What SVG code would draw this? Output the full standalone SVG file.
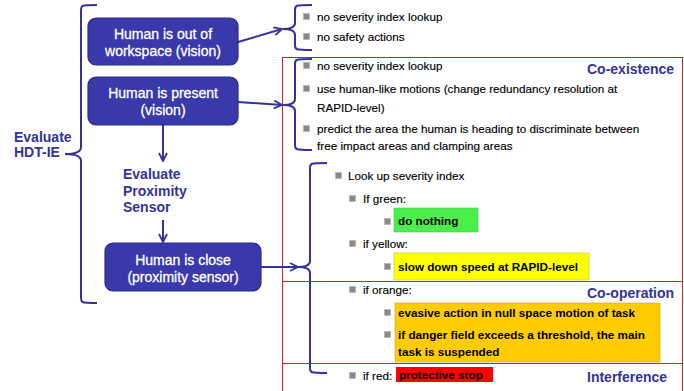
<svg xmlns="http://www.w3.org/2000/svg" width="684" height="391" viewBox="0 0 684 391">
<defs>
<style>
.box{fill:#3939ac;stroke:#2b2b88;stroke-width:1.2}
.bt{font-family:"Liberation Sans",Arial,sans-serif;font-size:14px;fill:#fff;stroke:#fff;stroke-width:0.3;text-anchor:middle}
.bl{font-family:"Liberation Sans",Arial,sans-serif;font-size:14px;font-weight:bold;fill:#333399}
.tx{font-family:"Liberation Sans",Arial,sans-serif;font-size:11.7px;fill:#000;stroke:#000;stroke-width:0.15}
.tb{font-family:"Liberation Sans",Arial,sans-serif;font-size:11.7px;font-weight:bold;fill:#000}
.br{fill:none;stroke:#333399;stroke-width:2}
.ar{fill:none;stroke:#333399;stroke-width:2}
.bu{fill:#8a8a8a;stroke:#b0b0b0;stroke-width:0.6}
.fr{fill:none;stroke:#d42020;stroke-width:1}
</style>
<marker id="ah" viewBox="0 0 10 10" refX="9" refY="5" markerWidth="10" markerHeight="10" markerUnits="userSpaceOnUse" orient="auto">
<polyline points="1,1 9,5 1,9" fill="none" stroke="#333399" stroke-width="1.8"/>
</marker>
</defs>
<rect width="684" height="391" fill="#fff"/>

<!-- red frame -->
<g id="frame">
<rect class="fr" x="282.5" y="57.5" width="400" height="340"/>
<line class="fr" x1="282.5" y1="281.5" x2="683" y2="281.5"/>
<line class="fr" x1="282.5" y1="363.5" x2="683" y2="363.5" stroke="#c84848"/>
</g>

<!-- connectors -->
<g id="connectors">
<path class="br" d="M97,5 C81,5 81,5 81,11 L81,147 Q81,154 65,154 Q81,154 81,161 L81,297 C81,303 81,303 97,303"/>
<path class="br" d="M312,5 C295,5 295,5 295,11 L295,23 Q295,29 283,29 Q295,29 295,35 L295,44 C295,50 295,50 312,50"/>
<path class="br" d="M312,59 C295,59 295,59 295,65 L295,99 Q295,105 283,105 Q295,105 295,111 L295,144 C295,150 295,150 312,150"/>
<path class="br" d="M327,163 C310,163 310,163 310,169 L310,261 Q310,267 298,267 Q310,267 310,273 L310,367 C310,373 310,373 327,373"/>
<line class="ar" x1="238" y1="42" x2="282" y2="29" marker-end="url(#ah)"/>
<line class="ar" x1="238" y1="102" x2="282" y2="105" marker-end="url(#ah)"/>
<line class="ar" x1="261" y1="267" x2="298" y2="267" marker-end="url(#ah)"/>
<line class="ar" x1="163" y1="125" x2="163" y2="161" marker-end="url(#ah)"/>
<line class="ar" x1="163" y1="220" x2="163" y2="242" marker-end="url(#ah)"/>
</g>

<g id="evaluate-hdt">
<text class="bl" x="14" y="142">Evaluate</text>
<text class="bl" x="14" y="157">HDT-IE</text>
</g>

<g id="node-out">
<rect class="box" x="88" y="18" width="150" height="47" rx="8"/>
<text class="bt" x="163" y="39">Human is out of</text>
<text class="bt" x="163" y="56">workspace (vision)</text>
</g>

<g id="node-present">
<rect class="box" x="88" y="77" width="150" height="48" rx="8"/>
<text class="bt" x="163" y="98">Human is present</text>
<text class="bt" x="163" y="115">(vision)</text>
</g>

<g id="evaluate-prox">
<text class="bl" x="123" y="179">Evaluate</text>
<text class="bl" x="123" y="196">Proximity</text>
<text class="bl" x="123" y="212">Sensor</text>
</g>

<g id="node-close">
<rect class="box" x="105" y="243" width="156" height="48" rx="8"/>
<text class="bt" x="183" y="265">Human is close</text>
<text class="bt" x="183" y="282">(proximity sensor)</text>
</g>

<g id="list-out">
<rect class="bu" x="303.5" y="13.5" width="6" height="6"/>
<text class="tx" x="317" y="21">no severity index lookup</text>
<rect class="bu" x="303.5" y="33.5" width="6" height="6"/>
<text class="tx" x="317" y="41">no safety actions</text>
</g>

<g id="list-present">
<rect class="bu" x="303.5" y="62.5" width="6" height="6"/>
<text class="tx" x="317" y="70">no severity index lookup</text>
<rect class="bu" x="303.5" y="85.5" width="6" height="6"/>
<text class="tx" x="317" y="93">use human-like motions (change redundancy resolution at</text>
<text class="tx" x="317" y="112">RAPID-level)</text>
<rect class="bu" x="303.5" y="125.5" width="6" height="6"/>
<text class="tx" x="317" y="133">predict the area the human is heading to discriminate between</text>
<text class="tx" x="317" y="150">free impact areas and clamping areas</text>
<text class="bl" x="587" y="74">Co-existence</text>
</g>

<g id="list-close">
<rect class="bu" x="335.5" y="172.5" width="6" height="6"/>
<text class="tx" x="348" y="180">Look up severity index</text>
<rect class="bu" x="349.5" y="195.5" width="6" height="6"/>
<text class="tx" x="363" y="203">If green:</text>
<rect x="394" y="208" width="84" height="24" fill="#4bef4b" stroke="#3cc83c" stroke-width="0.6"/>
<rect class="bu" x="384.5" y="218.5" width="6" height="6"/>
<text class="tb" x="398" y="225">do nothing</text>
<rect class="bu" x="349.5" y="240.5" width="6" height="6"/>
<text class="tx" x="363" y="248">if yellow:</text>
<rect x="394" y="253" width="195" height="27" fill="#ffff00" stroke="#c8c040" stroke-width="0.6"/>
<rect class="bu" x="384.5" y="263.5" width="6" height="6"/>
<text class="tb" x="398" y="271">slow down speed at RAPID-level</text>
<rect class="bu" x="349.5" y="286.5" width="6" height="6"/>
<text class="tx" x="363" y="294">if orange:</text>
<text class="bl" x="587" y="298">Co-operation</text>
<rect x="395" y="303" width="265" height="59" fill="#ffcc00" stroke="#d0a040" stroke-width="0.6"/>
<rect class="bu" x="384.5" y="309.5" width="6" height="6"/>
<text class="tb" x="398" y="317">evasive action in null space motion of task</text>
<rect class="bu" x="384.5" y="331.5" width="6" height="6"/>
<text class="tb" x="398" y="339">if danger field exceeds a threshold, the main</text>
<text class="tb" x="398" y="356">task is suspended</text>
<rect class="bu" x="349.5" y="372.5" width="6" height="6"/>
<text class="tx" x="363" y="380">if red:</text>
<rect x="396" y="367" width="97" height="15" fill="#ff0000"/>
<text class="tb" x="399" y="379">protective stop</text>
<text class="bl" x="587" y="382">Interference</text>
</g>
</svg>
